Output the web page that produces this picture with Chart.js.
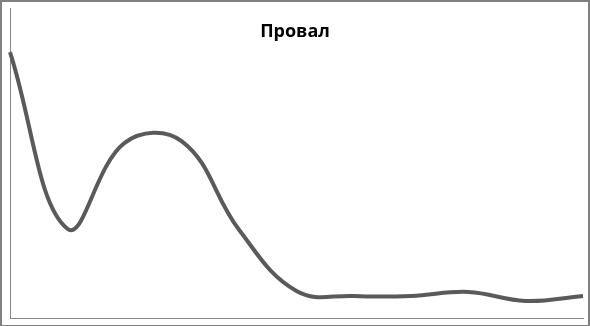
<!DOCTYPE html>
<html>
<head>
<meta charset="utf-8">
<script src="https://cdn.jsdelivr.net/npm/chart.js@4"></script>
<style>
html,body{margin:0;padding:0;background:#fff;}
#wrap{position:relative;width:590px;height:326px;}
</style>
</head>
<body>
<div id="wrap"><canvas id="c" width="590" height="326"></canvas></div>
<script>
const title = "Провал";
const categories = ["1","2","3","4","5","6","7","8","9","10","11"];
const values = [85.8, 28.8, 56.5, 57.0, 28.4, 8.7, 7.1, 7.1, 8.4, 5.5, 7.1];
const yMin = 0;
const yMax = 100;

const frame = {
  id: 'frame',
  afterDraw(chart) {
    const ctx = chart.ctx;
    ctx.save();
    ctx.fillStyle = '#808080';
    ctx.fillRect(0, 0, 590, 2);
    ctx.fillRect(0, 0, 2, 326);
    ctx.fillRect(588, 0, 2, 326);
    ctx.fillRect(0, 325, 590, 1);
    ctx.fillStyle = '#000';
    ctx.font = 'bold 18px "Open Sans", sans-serif';
    ctx.textAlign = 'center';
    ctx.textBaseline = 'middle';
    ctx.fillText(title, 295, 32);
    ctx.restore();
  }
};

new Chart(document.getElementById('c'), {
  type: 'line',
  data: {
    labels: categories,
    datasets: [{
      data: values,
      borderColor: '#5a5a5a',
      borderWidth: 4,
      pointRadius: 0,
      tension: 0.4,
      fill: false
    }]
  },
  options: {
    responsive: false,
    animation: false,
    devicePixelRatio: 1,
    layout: { padding: { left: 10, right: 7, top: 8, bottom: 8 } },
    plugins: { legend: { display: false }, tooltip: { enabled: false }, title: { display: false } },
    scales: {
      x: {
        offset: false,
        grid: { display: false, drawTicks: false },
        border: { display: true, color: '#868686', width: 1 },
        ticks: { display: false }
      },
      y: {
        min: yMin, max: yMax,
        grid: { display: false, drawTicks: false },
        border: { display: true, color: '#868686', width: 1 },
        ticks: { display: false }
      }
    }
  },
  plugins: [frame]
});
</script>
</body>
</html>
